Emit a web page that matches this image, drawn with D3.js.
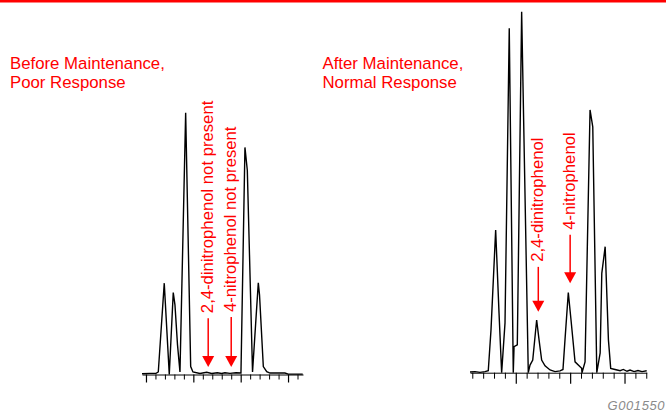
<!DOCTYPE html>
<html>
<head>
<meta charset="utf-8">
<script src="https://cdn.jsdelivr.net/npm/d3@7"></script>
<style>
  body { margin: 0; background: #fff; }
  #chart { width: 666px; height: 411px; }
  .title { font-family: "Liberation Sans", Arial, sans-serif; font-size: 16.8px; fill: #ff0000; }
  .peakLabel { font-family: "Liberation Sans", Arial, sans-serif; font-size: 16.7px; fill: #ff0000; }
  .figId { font-family: "Liberation Sans", Arial, sans-serif; font-size: 13px; font-style: italic; fill: #8a8a8a; }
</style>
</head>
<body>
<div id="chart"></div>
<script>

/*
DATA
time in tick units, response in % of the largest peak
*/
const beforeTime = [-0.42, 0.42, 1.06, 1.30, 1.93, 2.46, 2.88, 3.06, 3.33, 3.59, 4.19, 4.72, 4.96, 5.70,
  6.41, 6.94, 7.53, 7.99, 8.34, 8.87, 9.50, 10.03, 10.45, 10.70, 11.25, 11.86, 11.99, 12.39, 12.75,
  13.09, 14.67, 15.02, 16.55];
const beforeResp = [0.2, 0.3, 0.3, 0.7, 25.3, 0, 22.7, 19.3, 8.2, 0.7, 72.5, 2.2, 0.7, 0.3,
  0.6, 0.3, 0.5, 0.3, 0.5, 0.3, 0.5, 0.4, 62.9, 56.6, 0.7, 25.4, 22, 2.2, 0.8,
  0.4, 0.4, 0.1, 0.1];

const afterTime = [-0.21, 0.25, 0.71, 1.17, 1.47, 1.72, 2.15, 2.46, 2.70, 3.01, 3.40, 3.77, 3.84, 4.14,
  4.54, 5.15, 5.31, 5.56, 5.92, 6.14, 6.38, 6.69, 7.15, 7.61, 8.07, 8.34, 8.53, 8.83, 9.08, 9.45,
  10.06, 10.09, 10.37, 10.83, 11.08, 11.45, 11.76, 11.91, 12.22, 12.52, 12.73, 13.13, 13.59, 13.89,
  14.23, 14.51, 14.88, 15.24, 15.61, 16.04];
const afterResp = [0.2, 0.3, 0.1, 0.3, 0.55, 11.8, 39.5, 16.5, 0, 13.8, 95.4, 0, 7.2, 7.7,
  100, 0, 2.1, 3.5, 14.6, 9.1, 3.5, 1.9, 0.75, 0.3, 0.5, 0.9, 9.3, 22.2, 14.6, 3.0,
  1.2, 0, 3.0, 72.8, 68.1, 0, 5.5, 27.5, 34.9, 9.1, 1.2, 0.9, 0.55, 0.9,
  0.4, 0.75, 0.3, 0.6, 0.3, 0.55];

const minorTicks = d3.range(0, 17);
const majorTicksBefore = [0, 5, 10, 15];
const majorTicksAfter = [4, 9, 14];

const titlesBefore = ["Before Maintenance,", "Poor Response"];
const titlesAfter = ["After Maintenance,", "Normal Response"];

// annotations: label, retention time, response at text start, response at arrow tip
const labelsBefore = ["2,4-dinitrophenol not present", "4-nitrophenol not present"];
const labelTimeBefore = [6.57, 9.00];
const labelTextBefore = [17.0, 17.3];
const labelTipBefore = [2.1, 2.1];

const labelsAfter = ["2,4-dinitrophenol", "4-nitrophenol"];
const labelTimeAfter = [6.07, 9.00];
const labelTextAfter = [30.7, 39.6];
const labelTipAfter = [16.9, 24.8];

/*
SVG CANVAS
*/
const width = 666;
const height = 411;

const svg = d3.select("#chart")
  .append("svg")
  .attr("width", width)
  .attr("height", height);

// red rule along the top
svg.append("line")
  .attr("x1", 0)
  .attr("x2", width)
  .attr("y1", 1.2)
  .attr("y2", 1.2)
  .attr("stroke", "#ff0000")
  .attr("stroke-width", 2.4);

const panels = [
  {
    time: beforeTime, resp: beforeResp, majors: majorTicksBefore,
    domain: [-0.42, 16.58], range: [142, 303], base: 374.5,
    titles: titlesBefore, titleX: 10,
    labels: labelsBefore, lt: labelTimeBefore, ls: labelTextBefore, lp: labelTipBefore,
    minorLen: 5, majorLen: 8
  },
  {
    time: afterTime, resp: afterResp, majors: majorTicksAfter,
    domain: [-0.21, 16.04], range: [470, 646.7], base: 372.7,
    titles: titlesAfter, titleX: 322.5,
    labels: labelsAfter, lt: labelTimeAfter, ls: labelTextAfter, lp: labelTipAfter,
    minorLen: 6, majorLen: 11
  }
];

panels.forEach(function (p) {

  const xScale = d3.scaleLinear()
    .domain(p.domain)
    .range(p.range);

  const yScale = d3.scaleLinear()
    .domain([0, 100])
    .range([p.base, p.base - 361]);

  /*
  AXIS: minor and major ticks, no labels
  */
  svg.append("g")
    .attr("transform", `translate(0,${p.base})`)
    .call(d3.axisBottom(xScale)
      .tickValues(minorTicks.filter(function (t) { return p.majors.indexOf(t) < 0; }))
      .tickSize(p.minorLen)
      .tickSizeOuter(0)
      .tickFormat(""))
    .call(function (g) {
      g.selectAll("path, line").attr("stroke", "#000").attr("stroke-width", 1);
    });

  svg.append("g")
    .attr("transform", `translate(0,${p.base})`)
    .call(d3.axisBottom(xScale)
      .tickValues(p.majors)
      .tickSize(p.majorLen)
      .tickSizeOuter(0)
      .tickFormat(""))
    .call(function (g) {
      g.select(".domain").remove();
      g.selectAll("line").attr("stroke", "#000").attr("stroke-width", 1.2);
    });

  /*
  TRACE
  */
  const line = d3.line()
    .x(function (d, i) { return xScale(p.time[i]); })
    .y(function (d) { return yScale(d); })
    .curve(d3.curveLinear);

  svg.append("path")
    .datum(p.resp)
    .attr("d", line)
    .attr("fill", "none")
    .attr("stroke", "#000")
    .attr("stroke-width", 1.4)
    .attr("stroke-linejoin", "miter");

  /*
  TITLE
  */
  svg.append("text")
    .attr("class", "title")
    .selectAll("tspan")
    .data(p.titles)
    .enter()
    .append("tspan")
    .attr("x", p.titleX)
    .attr("y", function (d, i) { return 69 + i * 19; })
    .text(function (d) { return d; });

  /*
  PEAK LABELS WITH ARROWS
  */
  p.labels.forEach(function (lab, i) {
    const ax = xScale(p.lt[i]);
    const yText = yScale(p.ls[i]);
    const yTip = yScale(p.lp[i]);

    svg.append("text")
      .attr("class", "peakLabel")
      .attr("transform", `translate(${ax + 5},${yText}) rotate(-90)`)
      .attr("x", 0)
      .attr("y", 0)
      .text(lab);

    svg.append("line")
      .attr("x1", ax)
      .attr("x2", ax)
      .attr("y1", yText + 5)
      .attr("y2", yTip - 9)
      .attr("stroke", "#ff0000")
      .attr("stroke-width", 1.5);

    svg.append("path")
      .attr("d", `M${ax - 6},${yTip - 11} L${ax + 6},${yTip - 11} L${ax},${yTip} Z`)
      .attr("fill", "#ff0000");
  });
});

svg.append("text")
  .attr("class", "figId")
  .attr("x", 664.5)
  .attr("y", 409.5)
  .attr("text-anchor", "end")
  .attr("textLength", 57)
  .attr("lengthAdjust", "spacing")
  .text("G001550");

</script>
</body>
</html>
